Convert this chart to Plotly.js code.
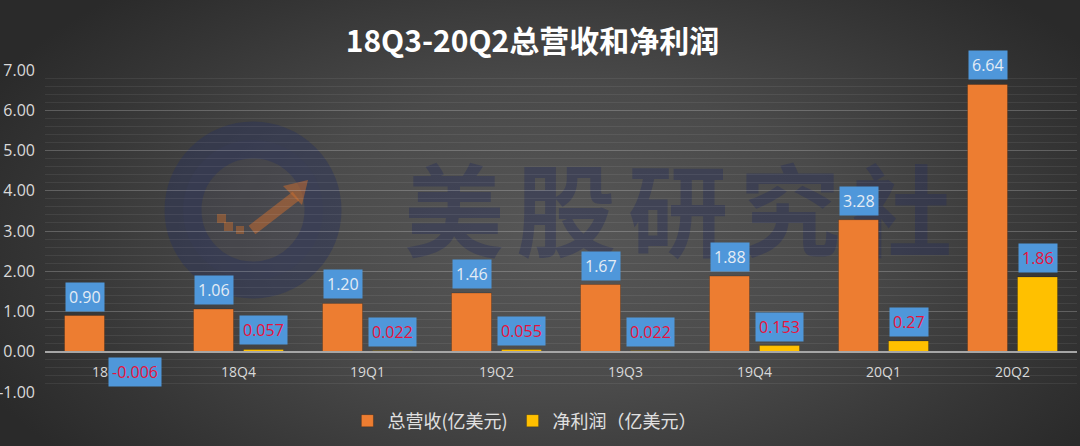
<!DOCTYPE html>
<html>
<head>
<meta charset="utf-8">
<script src="https://cdn.plot.ly/plotly-3.0.1.min.js"></script>
<style>
  html, body { margin:0; padding:0; width:1080px; height:446px; overflow:hidden; }
  body { background: radial-gradient(ellipse 640px 340px at 560px 240px, #575757 0%, #4a4a4a 45%, #353535 80%, #2a2a2a 100%); position:relative; }
  #wm { position:absolute; left:0; top:0; width:1080px; height:446px; z-index:0; }
  #wmtext { position:absolute; left:404px; top:156px; font-family:"Noto Sans CJK SC"; font-weight:700; font-size:100px; line-height:1; letter-spacing:12px; color:rgba(40,48,90,0.42); white-space:nowrap; }
  #chart { position:absolute; left:0; top:0; width:1080px; height:446px; z-index:1; }
</style>
</head>
<body>
<div id="wm">
  <svg width="1080" height="446" style="position:absolute;left:0;top:0">
    <circle cx="253" cy="210" r="70" fill="rgba(70,72,95,0.2)" stroke="rgba(42,50,92,0.45)" stroke-width="37"/>
    <path d="M252 230 L296 196" stroke="rgba(205,110,45,0.5)" stroke-width="11" fill="none"/>
    <path d="M283 186 L308 180 L302 205 Z" fill="rgba(205,110,45,0.5)"/>
    <rect x="217" y="214" width="9" height="9" fill="rgba(205,110,45,0.45)"/>
    <rect x="224" y="222" width="9" height="9" fill="rgba(205,110,45,0.45)"/>
    <rect x="236" y="226" width="8" height="8" fill="rgba(205,110,45,0.45)"/>
  </svg>
  <div id="wmtext">美股研究社</div>
</div>
<div id="chart"></div>
<script>
const categories = ["18Q3", "18Q4", "19Q1", "19Q2", "19Q3", "19Q4", "20Q1", "20Q2"];
const revenue = [0.90, 1.06, 1.20, 1.46, 1.67, 1.88, 3.28, 6.64];
const profit = [-0.006, 0.057, 0.022, 0.055, 0.022, 0.153, 0.27, 1.86];
const revenueLabels = ["0.90", "1.06", "1.20", "1.46", "1.67", "1.88", "3.28", "6.64"];
const profitLabels = ["-0.006", "0.057", "0.022", "0.055", "0.022", "0.153", "0.27", "1.86"];
const yTickVals = [-1, 0, 1, 2, 3, 4, 5, 6, 7];
const yTickText = ["-1.00", "0.00", "1.00", "2.00", "3.00", "4.00", "5.00", "6.00", "7.00"];
const seriesNames = ["总营收(亿美元)", "净利润（亿美元）"];

const yRange = [-1, 7];
const zeroPos = (0 - yRange[0]) / (yRange[1] - yRange[0]);

const traces = [
  { type: "bar", name: seriesNames[0], x: categories, y: revenue,
    marker: { color: "#ed7d31", line: { color: "rgba(0,0,0,0.2)", width: 1 } }, hoverinfo: "skip" },
  { type: "bar", name: seriesNames[1], x: categories, y: profit,
    marker: { color: "#ffc000", line: { color: "rgba(0,0,0,0.2)", width: 1 } }, hoverinfo: "skip" }
];

const annotations = [];
categories.forEach((c, i) => {
  annotations.push({
    x: c, y: revenue[i], xref: "x", yref: "y", xshift: -25, yshift: 4,
    yanchor: "bottom", showarrow: false, text: revenueLabels[i],
    bgcolor: "#4f97da", borderpad: 3,
    font: { family: "Open Sans", size: 16, color: "#e4ecf5" }
  });
  const neg = profit[i] < 0;
  annotations.push({
    x: c, y: profit[i], xref: "x", yref: "y", xshift: 25, yshift: neg ? -5 : 4,
    yanchor: neg ? "top" : "bottom", showarrow: false, text: profitLabels[i],
    bgcolor: "#4f97da", borderpad: 3,
    font: { family: "Open Sans", size: 16, color: "#e8123c" }
  });
});

const layout = {
  width: 1080, height: 446,
  margin: { l: 45, r: 3, t: 70, b: 54 },
  paper_bgcolor: "rgba(0,0,0,0)", plot_bgcolor: "rgba(0,0,0,0)",
  title: { text: "18Q3-20Q2总营收和净利润", x: 0.493, xanchor: "center", y: 0.906, yanchor: "middle",
    font: { family: "Noto Sans CJK SC", size: 30, color: "#ffffff", weight: 700 } },
  barmode: "group", bargap: 0.225, bargroupgap: 0.2,
  xaxis: { type: "category", anchor: "free", position: zeroPos, showline: true,
    linecolor: "#a6a6a6", linewidth: 2, ticks: "", showgrid: false,
    tickfont: { family: "Open Sans", size: 14, color: "#d9d9d9" }, ticklabelstandoff: 7 },
  yaxis: { range: yRange, tickvals: yTickVals, ticktext: yTickText, showgrid: true,
    gridcolor: "rgba(255,255,255,0.16)", gridwidth: 1, zeroline: false, ticks: "",
    tickfont: { family: "Open Sans", size: 16, color: "#d9d9d9" }, ticklabelstandoff: 9,
    minor: { dtick: 0.2, showgrid: true, gridcolor: "rgba(255,255,255,0.07)", gridwidth: 1 } },
  showlegend: true,
  legend: { orientation: "h", x: 0.465, xanchor: "center", y: -0.09, yanchor: "middle",
    font: { family: "Noto Sans CJK SC", size: 18, color: "#e0e0e0" }, bgcolor: "rgba(0,0,0,0)",
    itemwidth: 30, traceorder: "normal" },
  annotations: annotations
};

Plotly.newPlot("chart", traces, layout, { staticPlot: true, displayModeBar: false });
</script>
</body>
</html>
